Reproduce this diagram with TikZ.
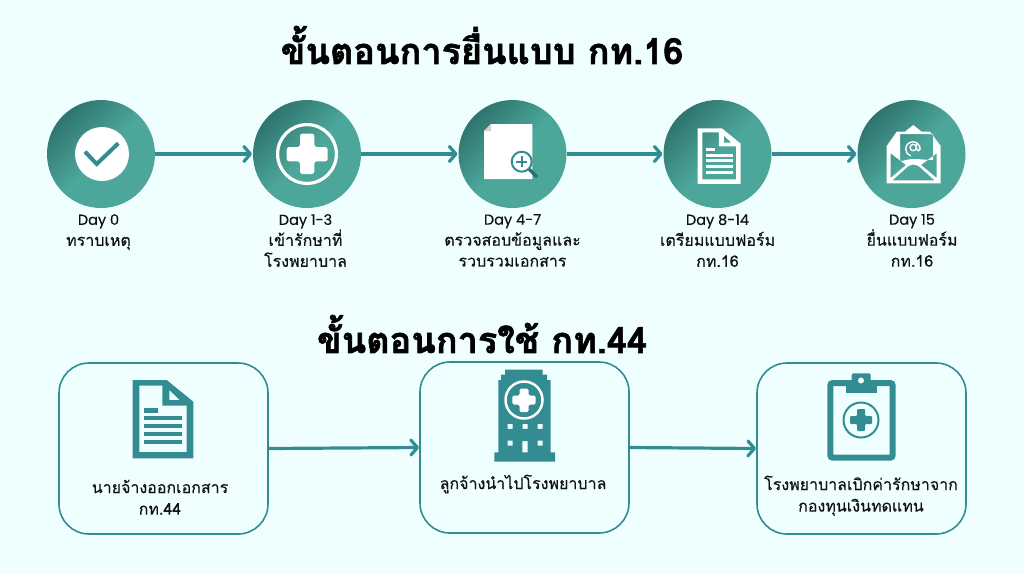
\documentclass[tikz,border=0pt]{standalone}
\usepackage{fontspec}
\setmainfont[Script=Thai,FakeBold=0.25]{Loma}
\newfontfamily\dayfont[FakeBold=0.3]{Poppins}
\newfontfamily\headfont[Script=Thai,FakeBold=1.6]{Loma Bold}
\usetikzlibrary{arrows.meta}
\definecolor{bgc}{HTML}{EFFFFF}
\definecolor{tealc}{HTML}{348C93}
\definecolor{gdark}{HTML}{2E746F}
\definecolor{glight}{HTML}{4CA69A}
\definecolor{inkc}{HTML}{111111}
\pgfdeclareverticalshading{tealdiag}{100bp}{color(0bp)=(glight); color(50bp)=(glight); color(75bp)=(gdark); color(100bp)=(gdark)}
\newcommand{\dayline}[1]{{\dayfont\fontsize{14.5}{21}\selectfont #1}}
\tikzset{
  stepdisc/.style={circle,minimum size=108pt,inner sep=0pt,outer sep=0pt,shade,shading=tealdiag,shading angle=45},
  flowbox/.style={draw=tealc,line width=1.6pt,rounded corners=30pt,minimum width=209pt,minimum height=171pt,inner sep=0pt,outer sep=0pt,fill=none},
  flowarrow/.style={draw=tealc,line width=3.2pt,-{Straight Barb[length=6.5pt,width=15pt,line width=3.2pt,round]},shorten >=1pt},
  steplabel/.style={anchor=north,inner sep=0pt,align=center,text=inkc,font=\fontsize{16}{21}\selectfont},
  boxlabel/.style={anchor=north,inner sep=0pt,align=center,text=inkc,font=\fontsize{16}{21.5}\selectfont},
  titletext/.style={inner sep=0pt,text=black,font=\headfont\fontsize{36}{40}\selectfont},
  pics/docicon/.style={code={
    \fill[#1,even odd rule] (0,0)--(34,0)--(60.6,21.7)--(60.6,78.3)--(0,78.3)--cycle
       (6.7,5.7)--(29.7,5.7)--(29.7,25.5)--(54,25.5)--(54,72)--(6.7,72)--cycle
       (36.7,10)--(36.7,20)--(47,20)--cycle;
    \fill[#1] (11.7,28) rectangle (25,32.5);
    \foreach \yy in {35.5,43.5,51.5,59.5} {\fill[#1] (11.7,\yy) rectangle (49,\yy+4.5);}
  }}
}
\begin{document}
\begin{tikzpicture}[x=1pt,y=-1pt]
\useasboundingbox (0,0) rectangle (1024,574);
\fill[bgc] (0,0) rectangle (1024,574);

% titles
\node[titletext] (t1) at (482,45) {ขั้นตอนการยื่นแบบ กท.16};
\node[titletext] (t2) at (482,334) {ขั้นตอนการใช้ กท.44};

% discs
\node[stepdisc] (c1) at (101,154) {};
\node[stepdisc] (c2) at (307,154) {};
\node[stepdisc] (c3) at (512.5,154) {};
\node[stepdisc] (c4) at (717.5,154) {};
\node[stepdisc] (c5) at (911.5,154) {};

\draw[flowarrow] (c1.east) -- (c2.west);
\draw[flowarrow] (c2.east) -- (c3.west);
\draw[flowarrow] (c3.east) -- (c4.west);
\draw[flowarrow] (c4.east) -- (c5.west);

% check icon
\fill[white] (102,154) circle (27);
\draw[tealc,line width=4pt] (85,151.7) -- (96.7,164) -- (118.3,143.3);

% plus ring icon
\draw[white,line width=3.2pt] (307,154) circle (29.4);
\fill[white,rounded corners=2.5pt] (300,133.5) -- (314.3,133.5) -- (314.3,147) -- (327.7,147) -- (327.7,161.3) -- (314.3,161.3) -- (314.3,174) -- (300,174) -- (300,161.3) -- (286.7,161.3) -- (286.7,147) -- (300,147) -- cycle;

% page + magnifier icon
\fill[white] (491,124) -- (532.3,124) -- (532.3,179) -- (484,179) -- (484,131) -- cycle;
\fill[gray!35] (491,124) -- (491,131) -- (484,131) -- cycle;
\draw[tealc!80!black,line width=3.5pt,line cap=round] (529,169) -- (536.5,176.5);
\draw[tealc,line width=2pt,fill=white] (521.7,161.7) circle (10);
\draw[tealc,line width=2pt] (516,161.7) -- (527.4,161.7) (521.7,156) -- (521.7,167.4);

% page icon
\pic at (697.7,128.3) [scale=0.71] {docicon=white};

% envelope icon
\fill[white,even odd rule]
  (886.7,146)--(896.7,131.7)--(905,131.7)--(913.3,125)--(921.6,131.7)--(930,131.7)--(940.7,146)--(940.7,183.3)--(886.7,183.3)--cycle
  (900,134)--(933,134)--(933,160) .. controls (925,160) and (921,159) .. (913.5,159) .. controls (907,159) and (904,161) .. (900,161)--cycle
  (890.7,153.3)--(890.7,178)--(906,165)--cycle
  (936.7,153.3)--(936.7,178)--(921,165)--cycle
  (892.5,180.3) -- (905,169) .. controls (911,163) and (916,163) .. (922,169) -- (934.5,180.3) --cycle;
\draw[white,line width=1.4pt] (913.3,147.5) circle (3.2);
\draw[white,line width=1.4pt,line cap=round] (916.5,144.5) -- (916.5,149) arc (180:0:1.8) arc (0:-250:7.2);

% step labels
\node[steplabel] (l1) at (98.5,214) {\dayline{Day 0}\\ทราบเหตุ};
\node[steplabel] (l2) at (305.5,214) {\dayline{Day 1-3}\\เข้ารักษาที่\\โรงพยาบาล};
\node[steplabel] (l3) at (512.5,214) {\dayline{Day 4-7}\\ตรวจสอบข้อมูลและ\\รวบรวมเอกสาร};
\node[steplabel] (l4) at (717.5,214) {\dayline{Day 8-14}\\เตรียมแบบฟอร์ม\\กท.16};
\node[steplabel] (l5) at (912,214) {\dayline{Day 15}\\ยื่นแบบฟอร์ม\\กท.16};

% boxes
\node[flowbox] (b1) at (163.5,448.5) {};
\node[flowbox] (b2) at (524.5,447.5) {};
\node[flowbox] (b3) at (861.5,448.5) {};
\draw[flowarrow] (b1.east) -- (b2.west);
\draw[flowarrow] (b2.east) -- (b3.west);

% big document
\pic at (132.7,380) {docicon=tealc};

% hospital
\fill[tealc,even odd rule]
  (505,369.5)--(542.5,369.5)--(542.5,374.5)--(547,374.5)--(547,380)--(550.5,380)--(550.5,452.3)--(555,452.3)--(555,461.5)--(494.3,461.5)--(494.3,452.3)--(498.3,452.3)--(498.3,380)--(501,380)--(501,374.5)--(505,374.5)--cycle
  (507.5,423.8) rectangle (512.5,428.8)
  (522.5,423.8) rectangle (527.5,428.8)
  (537.5,423.8) rectangle (542.5,428.8)
  (507.5,440.5) rectangle (512.5,445.5)
  (537.5,440.5) rectangle (542.5,445.5)
  (522.3,441) rectangle (527.7,452.3);
\draw[white,line width=2.5pt] (524,400) circle (18.5);
\fill[white,rounded corners=1.5pt] (519.5,388.5)--(528.5,388.5)--(528.5,395.5)--(535.7,395.5)--(535.7,404.5)--(528.5,404.5)--(528.5,412)--(519.5,412)--(519.5,404.5)--(512.3,404.5)--(512.3,395.5)--(519.5,395.5)--cycle;

% clipboard
\draw[tealc,line width=6pt,rounded corners=2.5pt] (830.3,383) rectangle (892.7,457.7);
\fill[tealc,rounded corners=2pt] (851.7,373.3) rectangle (870.7,385);
\fill[tealc] (845.7,380) rectangle (876.7,392.7);
\fill[bgc] (861,380.5) circle (3);
\draw[tealc,line width=2pt] (861,420) circle (17.5);
\fill[tealc,rounded corners=1pt] (857,409)--(865,409)--(865,416)--(872,416)--(872,424)--(865,424)--(865,431)--(857,431)--(857,424)--(850,424)--(850,416)--(857,416)--cycle;

% box labels
\node[boxlabel] (bl1) at (160,479.5) {นายจ้างออกเอกสาร\\กท.44};
\node[boxlabel] (bl2) at (523,474.5) {ลูกจ้างนำไปโรงพยาบาล};
\node[boxlabel] (bl3) at (861,475.5) {โรงพยาบาลเบิกค่ารักษาจาก\\กองทุนเงินทดแทน};
\end{tikzpicture}
\end{document}
